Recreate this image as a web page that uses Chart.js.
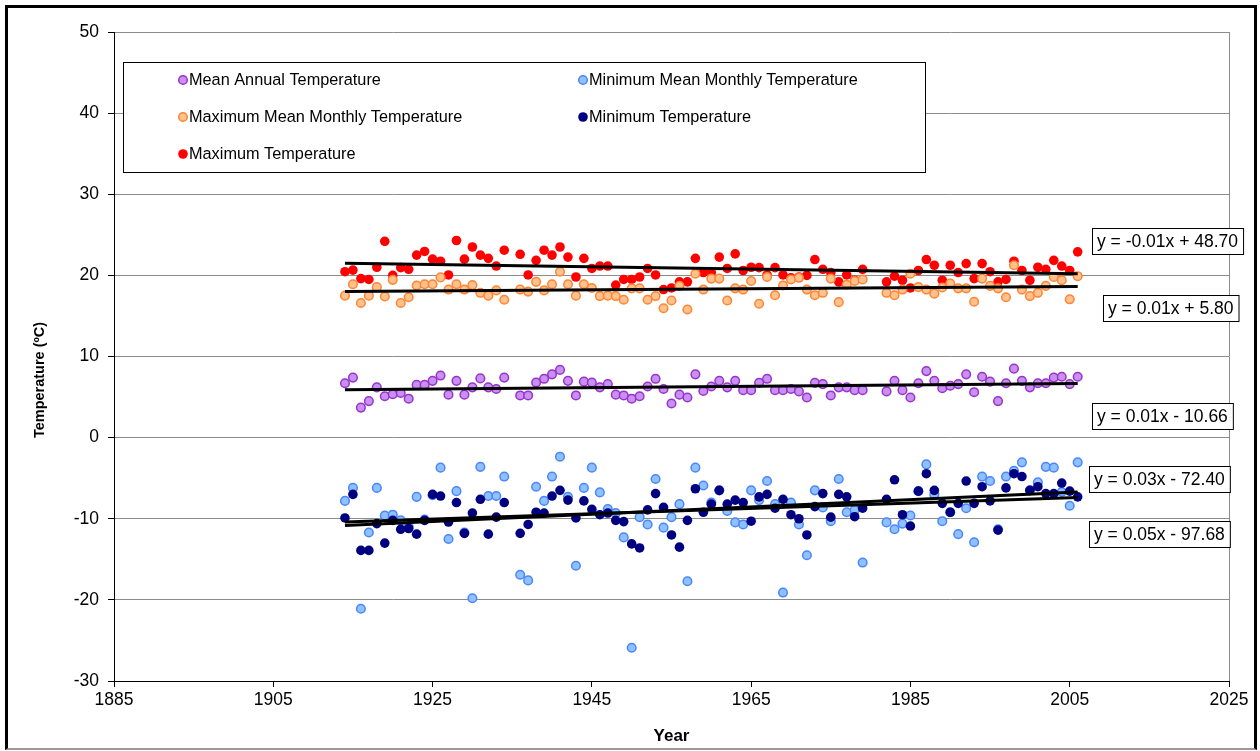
<!DOCTYPE html>
<html>
<head>
<meta charset="utf-8">
<title>Temperature</title>
<script src="https://cdn.jsdelivr.net/npm/chart.js@4.4.1/dist/chart.umd.min.js"></script>
<style>
  html, body { margin: 0; padding: 0; background: #fff; }
  #wrap { position: relative; width: 1260px; height: 751px; overflow: hidden; }
  #frame {
    position: absolute; left: 5px; top: 5px; width: 1252px; height: 745px;
    box-sizing: border-box; border: 3px solid #000; border-bottom: 2px solid #9a9a9a;
    pointer-events: none;
  }
</style>
</head>
<body>
<div id="wrap">
  <canvas id="chart" width="1260" height="751"></canvas>
  <div id="frame"></div>
</div>
<script>
const years = Array.from({ length: 93 }, (_, i) => 1914 + i)

const meanAnnual = [
  6.7, 7.4, 3.7, 4.5, 6.2, 5.1, 5.35, 5.5, 4.8, 6.5,
  6.5, 7.0, 7.65, 5.3, 7.0, 5.3, 6.2, 7.3, 6.2, 6.0,
  7.4, null, 5.2, 5.2, 6.8, 7.25, 7.8, 8.35, 7.0, 5.2,
  6.9, 6.8, 6.2, 6.6, 5.3, 5.2, 4.8, 5.1, 6.3, 7.25,
  6.0, 4.2, 5.3, 4.95, 7.8, 5.75, 6.3, 7.0, 6.2, 7.0,
  5.85, 5.85, 6.75, 7.25, 5.85, 5.85, 6.0, 5.7, 4.95, 6.75,
  6.6, 5.2, 6.2, 6.2, 5.85, 5.85, null, null, 5.7, 7.0,
  5.85, 4.95, 6.7, 8.2, 7.0, 6.1, 6.4, 6.6, 7.8, 5.6,
  7.5, 6.9, 4.5, 6.7, 8.5, 7.0, 6.2, 6.7, 6.7, 7.4,
  7.5, 6.6, 7.5
]

const minMeanMonthly = [
  -7.8, -6.2, -21.1, -11.7, -6.2, -9.6, -9.5, -10.2, -11.0, -7.3,
  -10.1, -7.1, -3.7, -12.5, -6.6, -11.7, -19.8, -3.6, -7.2, -7.2,
  -4.8, null, -16.9, -17.6, -6.05, -7.8, -4.8, -2.35, -7.3, -15.8,
  -6.2, -3.7, -6.75, -8.8, -9.3, -12.3, -25.9, -9.8, -10.7, -5.1,
  -11.1, -9.8, -8.2, -17.7, -3.7, -5.9, -8.0, -6.5, -9.05, -10.45,
  -10.7, -6.5, -7.7, -5.35, -8.2, -19.1, -8.0, -10.7, -14.5, -6.5,
  -8.6, -10.3, -5.1, -9.2, -8.9, -15.4, null, null, -10.45, -11.3,
  -10.6, -9.6, -6.6, -3.3, -7.0, -10.3, -9.2, -11.9, -8.7, -12.9,
  -4.8, -5.35, -11.3, -4.8, -4.1, -3.05, -6.5, -5.5, -3.6, -3.7,
  -6.7, -8.4, -3.05
]

const maxMeanMonthly = [
  17.5, 18.9, 16.6, 17.5, 18.55, 17.4, 19.45, 16.6, 17.3, 18.75,
  18.9, 18.9, 19.75, 18.25, 18.9, 18.25, 18.8, 17.85, 17.5, 18.15,
  17.0, null, 18.25, 18.0, 19.2, 18.15, 18.9, 20.45, 18.9, 17.5,
  18.9, 18.45, 17.45, 17.5, 17.45, 17.0, 18.4, 18.4, 17.0, 17.45,
  15.95, 16.9, 18.7, 15.8, 20.2, 18.25, 19.6, 19.6, 16.9, 18.4,
  18.25, 19.3, 16.5, 19.8, 17.55, 18.75, 19.5, 19.7, 18.25, 17.55,
  17.85, 19.6, 16.7, 18.85, 19.3, 19.5, null, null, 17.85, 17.55,
  18.25, 20.2, 18.55, 18.25, 17.75, 18.5, 19.0, 18.4, 18.4, 16.75,
  19.6, 18.7, 18.4, 17.3, 21.25, 18.25, 17.45, 17.85, 18.7, 19.8,
  19.4, 17.05, 19.9
]

const minTemp = [
  -9.9, -7.0, -13.9, -13.9, -10.6, -13.0, -10.2, -11.3, -11.2, -11.9,
  -10.2, -7.0, -7.2, -10.4, -8.0, -11.8, -9.3, -7.6, -11.9, -9.8,
  -8.0, null, -11.8, -10.7, -9.2, -9.3, -7.2, -6.5, -7.7, -9.9,
  -7.8, -8.85, -9.5, -9.3, -10.2, -10.35, -13.1, -13.6, -8.9, -6.9,
  -8.6, -12.0, -13.5, -10.2, -6.3, -9.2, -8.2, -6.5, -8.2, -7.7,
  -8.0, -10.3, -7.3, -7.0, -8.7, -7.6, -9.5, -10.0, -12.0, -8.5,
  -6.9, -9.8, -7.0, -7.3, -9.75, -8.7, null, null, -7.6, -5.2,
  -9.5, -10.9, -6.6, -4.45, -6.5, -8.1, -9.2, -8.1, -5.35, -8.1,
  -6.05, -7.8, -11.4, -6.2, -4.45, -4.8, -6.5, -6.05, -6.9, -6.9,
  -5.6, -6.6, -7.3
]

const maxTemp = [
  20.45, 20.65, 19.6, 19.5, 21.0, 24.2, 20.0, 20.95, 20.75, 22.5,
  22.95, 22.0, 21.75, 20.05, 24.3, 22.0, 23.5, 22.5, 22.1, 21.15,
  23.1, null, 22.6, 20.05, 21.85, 23.1, 22.5, 23.5, 22.25, 19.8,
  22.1, 20.85, 21.15, 21.15, 18.8, 19.5, 19.5, 19.8, 20.85, 20.05,
  18.25, 18.45, 19.2, 19.2, 22.1, 20.35, 20.35, 22.25, 20.85, 22.65,
  20.6, 21.0, 20.95, 20.05, 20.95, 20.05, 19.7, 19.8, 20.0, 21.95,
  20.75, 20.35, 19.2, 20.05, 19.4, 20.75, null, null, 19.2, 19.9,
  19.4, 18.45, 20.6, 21.95, 21.25, 19.4, 21.25, 20.35, 21.45, 19.6,
  21.45, 20.45, 19.2, 19.5, 21.75, 20.6, 19.4, 21.0, 20.75, 21.85,
  21.15, 20.6, 22.9
]

const yTicks = [-30, -20, -10, 0, 10, 20, 30, 40, 50]
const xTicks = [1885, 1905, 1925, 1945, 1965, 1985, 2005, 2025]
const yTitle = 'Temperature (ºC)'

// trend line equations as printed beside the lines
const equations = [
  { text: 'y = -0.01x + 48.70', left: 1092, top: 228 },
  { text: 'y = 0.01x + 5.80', left: 1103, top: 295 },
  { text: 'y = 0.01x - 10.66', left: 1092, top: 403 },
  { text: 'y = 0.03x - 72.40', left: 1089, top: 466 },
  { text: 'y = 0.05x - 97.68', left: 1089, top: 521 }
]

const FONT = 'Arial, "Liberation Sans", sans-serif'

const toPoints = vals => years.map((yr, i) => ({ x: yr, y: vals[i] })).filter(p => p.y !== null)

// least squares fit over the years that have a value
function trend(vals) {
  const pts = toPoints(vals)
  const n = pts.length
  let sx = 0, sy = 0, sxx = 0, sxy = 0
  pts.forEach(p => { sx += p.x; sy += p.y; sxx += p.x * p.x; sxy += p.x * p.y })
  const slope = (n * sxy - sx * sy) / (n * sxx - sx * sx)
  const icpt = (sy - slope * sx) / n
  const x0 = pts[0].x, x1 = pts[n - 1].x
  return [{ x: x0, y: slope * x0 + icpt }, { x: x1, y: slope * x1 + icpt }]
}

const series = [
  { label: 'Mean Annual Temperature', data: meanAnnual, fill: '#c890f0', stroke: '#9933cc', r: 4.3, bw: 1.5, order: 6 },
  { label: 'Minimum Mean Monthly Temperature', data: minMeanMonthly, fill: '#8fc0ff', stroke: '#4a86ff', r: 4.3, bw: 1.5, order: 5 },
  { label: 'Maximum Mean Monthly Temperature', data: maxMeanMonthly, fill: '#ffc18e', stroke: '#ff8533', r: 4.3, bw: 1.5, order: 2 },
  { label: 'Minimum Temperature', data: minTemp, fill: '#000080', stroke: '#000080', r: 4.8, bw: 0, order: 4 },
  { label: 'Maximum Temperature', data: maxTemp, fill: '#ff0000', stroke: '#ff0000', r: 4.8, bw: 0, order: 3 }
]

const datasets = series.map(s => ({
  label: s.label,
  data: toPoints(s.data),
  showLine: false,
  pointRadius: s.r,
  pointHoverRadius: s.r,
  pointBackgroundColor: s.fill,
  pointBorderColor: s.stroke,
  pointBorderWidth: s.bw,
  backgroundColor: s.fill,
  borderColor: s.stroke,
  order: s.order
}))

series.forEach(s => {
  datasets.push({
    type: 'line',
    isTrend: true,
    data: trend(s.data),
    borderColor: '#000',
    borderWidth: 3,
    pointRadius: 0,
    fill: false,
    order: 0
  })
})

// boxed legend inside the plot, two columns
const boxLegend = {
  id: 'boxLegend',
  afterDraw(chart) {
    const ctx = chart.ctx
    ctx.save()
    ctx.fillStyle = '#fff'
    ctx.fillRect(123, 62, 802, 110)
    ctx.strokeStyle = '#000'
    ctx.lineWidth = 1
    ctx.strokeRect(123.5, 62.5, 802, 110)
    ctx.font = '16.3px ' + FONT
    ctx.textBaseline = 'middle'
    const cols = [183, 583]
    const rows = [80, 117, 154]
    chart.data.datasets.filter(ds => !ds.isTrend).forEach((ds, i) => {
      const x = cols[i % 2], y = rows[Math.floor(i / 2)]
      ctx.beginPath()
      ctx.arc(x, y, ds.pointRadius, 0, Math.PI * 2)
      ctx.fillStyle = ds.pointBackgroundColor
      ctx.fill()
      if (ds.pointBorderWidth) {
        ctx.lineWidth = ds.pointBorderWidth
        ctx.strokeStyle = ds.pointBorderColor
        ctx.stroke()
      }
      ctx.fillStyle = '#000'
      ctx.fillText(ds.label, x + 6, y + 1)
    })
    ctx.restore()
  }
}

// right edge of the plot area, the y axis title and the equation boxes
const extras = {
  id: 'extras',
  beforeDatasetsDraw(chart) {
    const { ctx, chartArea } = chart
    ctx.save()
    ctx.strokeStyle = '#8c8c8c'
    ctx.lineWidth = 1
    ctx.beginPath()
    ctx.moveTo(Math.round(chartArea.right) + 0.5, chartArea.top)
    ctx.lineTo(Math.round(chartArea.right) + 0.5, chartArea.bottom)
    ctx.stroke()
    ctx.restore()
  },
  afterDraw(chart) {
    const ctx = chart.ctx
    ctx.save()
    ctx.translate(40, 380)
    ctx.rotate(-Math.PI / 2)
    ctx.font = 'bold 14.5px ' + FONT
    ctx.textAlign = 'center'
    ctx.textBaseline = 'middle'
    ctx.fillStyle = '#000'
    ctx.fillText(yTitle, 0, 0)
    ctx.restore()

    ctx.save()
    ctx.font = '17.5px ' + FONT
    ctx.textBaseline = 'middle'
    equations.forEach(eq => {
      const w = ctx.measureText(eq.text).width + 10
      const h = 26
      ctx.fillStyle = '#fff'
      ctx.fillRect(eq.left, eq.top, w, h)
      ctx.strokeStyle = '#000'
      ctx.lineWidth = 1
      ctx.strokeRect(eq.left + 0.5, eq.top + 0.5, w, h)
      ctx.fillStyle = '#000'
      ctx.fillText(eq.text, eq.left + 5, eq.top + h / 2 + 1)
    })
    ctx.restore()
  }
}

new Chart(document.getElementById('chart'), {
  type: 'scatter',
  data: { datasets },
  options: {
    responsive: false,
    animation: false,
    devicePixelRatio: 1,
    layout: { padding: { top: 32, right: 31, left: 0, bottom: 0 } },
    plugins: {
      legend: { display: false },
      tooltip: { enabled: false }
    },
    scales: {
      x: {
        type: 'linear',
        min: 1885,
        max: 2025,
        afterBuildTicks: s => { s.ticks = xTicks.map(v => ({ value: v })) },
        afterFit: s => { s.height = 70 },
        ticks: {
          callback: v => String(v),
          color: '#000',
          font: { family: FONT, size: 17.5 },
          padding: 3,
          maxRotation: 0
        },
        grid: { drawOnChartArea: false, drawTicks: true, tickLength: 6, tickColor: '#000' },
        border: { color: '#000', width: 1 },
        title: {
          display: true,
          text: 'Year',
          color: '#000',
          font: { family: FONT, size: 17, weight: 'bold' },
          padding: { top: 0, bottom: 4 }
        }
      },
      y: {
        min: -30,
        max: 50,
        afterBuildTicks: s => { s.ticks = yTicks.map(v => ({ value: v })) },
        afterFit: s => { s.width = 114 },
        ticks: {
          callback: v => String(v),
          color: '#000',
          font: { family: FONT, size: 17.5 },
          padding: 9
        },
        grid: { color: '#8c8c8c', lineWidth: 1, drawTicks: true, tickLength: 6, tickColor: '#000' },
        border: { color: '#000', width: 1 }
      }
    }
  },
  plugins: [extras, boxLegend]
})
</script>
</body>
</html>
